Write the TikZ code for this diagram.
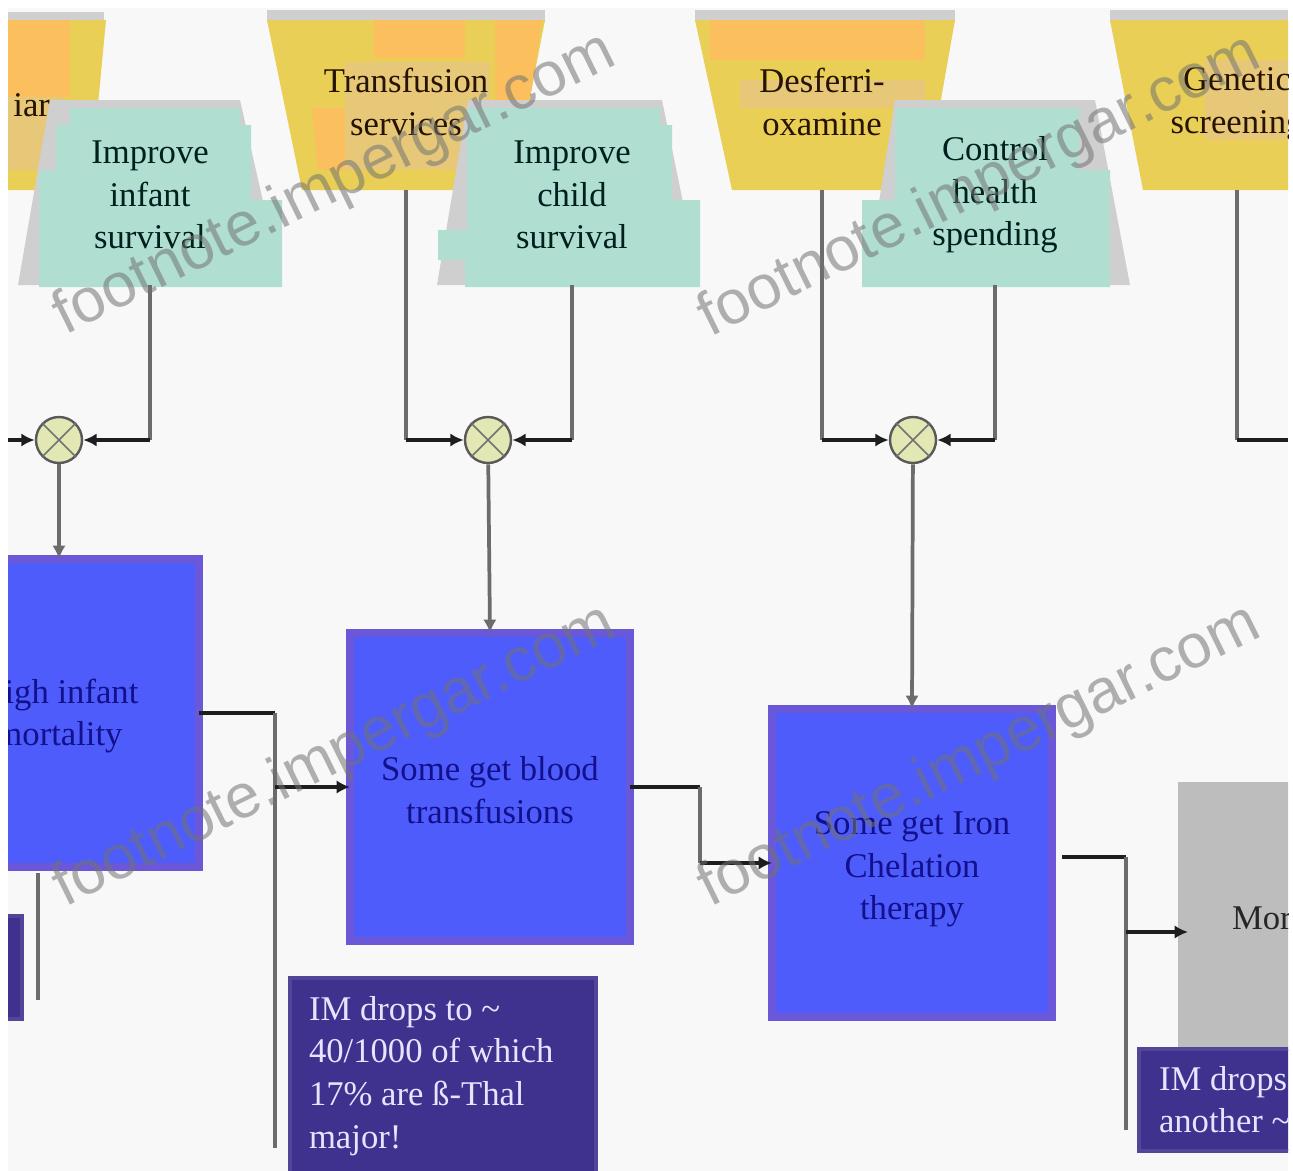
\documentclass[tikz,border=0pt]{standalone}
\usepackage{fontspec}
\setmainfont{Liberation Serif}
\newfontfamily\wmfont{Liberation Sans}
\usetikzlibrary{arrows.meta,calc}
\definecolor{bgc}{HTML}{F8F8F8}
\definecolor{orA}{HTML}{E9CF55}
\definecolor{orB}{HTML}{FCBF5E}
\definecolor{orC}{HTML}{E6C878}
\definecolor{tealc}{HTML}{B0DFD1}
\definecolor{shad}{HTML}{CFCFCF}
\definecolor{blueF}{HTML}{4D5CFB}
\definecolor{blueB}{HTML}{6A58D8}
\definecolor{blueT}{HTML}{12108C}
\definecolor{darkF}{HTML}{3F318E}
\definecolor{greyF}{HTML}{BDBDBD}
\definecolor{xorF}{HTML}{E3E7B4}
\definecolor{lineV}{HTML}{6C6C6C}
\definecolor{lineH}{HTML}{1E1E1E}
\newcommand{\pushdown}[1]{\rule{0pt}{#1}}
\tikzset{
  base/.style={font=\fontsize{26}{32}\selectfont, align=center, inner sep=0pt, outer sep=0pt},
  ordertext/.style={base, text=black!85!orange, minimum width=130*0.75pt, minimum height=176*0.75pt},
  tealtext/.style={base, text=black!75!teal, minimum width=190*0.75pt, minimum height=180*0.75pt},
  bluebox/.style={base, text=blueT, fill=blueF, draw=blueB, line width=6pt, minimum width=280*0.75pt, minimum height=308*0.75pt},
  darkbox/.style={fill=darkF, draw=darkF!90!white, line width=3pt, inner sep=0pt, outer sep=0pt},
  darktext/.style={base, text=white!90!blue, align=left, anchor=north west},
  greybox/.style={fill=greyF, inner sep=0pt, outer sep=0pt},
  xorn/.style={circle, fill=xorF, draw=black!65, line width=1.8pt, minimum size=46*0.75pt, inner sep=0pt, outer sep=1pt},
  vline/.style={draw=lineV, line width=2.8pt},
  hline/.style={draw=lineH, line width=2.8pt},
  tip/.style={-{Latex[length=10pt,width=10pt]}},
  wm/.style={font=\wmfont\fontsize{46.5}{46.5}\selectfont, text=black!55, opacity=.55, rotate=26.2, inner sep=0pt}
}
\begin{document}
\begin{tikzpicture}[x=0.75pt,y=-0.75pt]
\useasboundingbox (0,0) rectangle (1293,1171);
\fill[white] (0,0) rectangle (1293,1171);
\clip (8,8) rectangle (1288,1171);
\fill[bgc] (8,8) rectangle (1288,1171);

% yellow trapezoids
\fill[shad] (8,12) -- (104,12) -- (104,22) -- (8,22) -- cycle;
\fill[orA] (8,20) -- (106,20) -- (90,190) -- (8,190) -- cycle;
\fill[orB] (8,20) -- (70,20) -- (70,97) -- (8,97) -- cycle;
\fill[orC] (8,97) -- (65,97) -- (50,170) -- (8,170) -- cycle;

\fill[shad] (267,10) -- (545,10) -- (545,22) -- (267,22) -- cycle;
\fill[orA] (267,20) -- (545,20) -- (512,190) -- (302,190) -- cycle;
\fill[orB] (374,20) -- (465,20) -- (465,58) -- (374,58) -- cycle;
\fill[orB] (495,20) -- (542,20) -- (530,100) -- (495,100) -- cycle;
\fill[orB] (312,108) -- (345,108) -- (345,170) -- (318,170) -- cycle;
\fill[orC] (345,62) -- (490,62) -- (490,170) -- (345,170) -- cycle;

\fill[shad] (695,10) -- (955,10) -- (955,22) -- (695,22) -- cycle;
\fill[orA] (695,20) -- (955,20) -- (925,190) -- (732,190) -- cycle;
\fill[orB] (710,20) -- (925,20) -- (925,60) -- (710,60) -- cycle;
\fill[orC] (740,80) -- (925,80) -- (925,108) -- (740,108) -- cycle;

\fill[shad] (1110,10) -- (1288,10) -- (1288,22) -- (1110,22) -- cycle;
\fill[orA] (1110,20) -- (1288,20) -- (1288,190) -- (1143,190) -- cycle;
\fill[orC] (1205,60) -- (1288,60) -- (1288,140) -- (1205,140) -- cycle;

\node[base, anchor=east, text=black!85!orange] (o1) at (50,105) {iar};
\node[ordertext] (o2) at (406,102) {Transfusion\\services};
\node[ordertext] (o3) at (822,102) {Desferri-\\oxamine};
\node[ordertext] (o4) at (1237,102) {\pushdown{21pt}Genetic\\screening};

% teal trapezoids
\fill[shad] (50,100) -- (240,100) -- (282,285) -- (18,285) -- cycle;
\fill[tealc] (70,108) -- (240,108) -- (240,125) -- (251,125) -- (251,200) -- (282,200) -- (282,287) -- (39,287) -- (39,170) -- (56,170) -- (56,125) -- (70,125) -- cycle;
\fill[shad] (468,100) -- (662,100) -- (700,285) -- (437,285) -- cycle;
\fill[tealc] (467,108) -- (660,108) -- (660,125) -- (672,125) -- (672,200) -- (700,200) -- (700,287) -- (465,287) -- (465,260) -- (438,260) -- (438,230) -- (467,230) -- cycle;
\fill[shad] (895,100) -- (1095,100) -- (1130,285) -- (866,285) -- cycle;
\fill[tealc] (895,108) -- (1079,108) -- (1079,170) -- (1110,170) -- (1110,287) -- (862,287) -- (862,200) -- (895,200) -- cycle;

\node[tealtext] (t1) at (150,195) {Improve\\infant\\survival};
\node[tealtext] (t2) at (572,195) {Improve\\child\\survival};
\node[tealtext] (t3) at (995,195) {Control\\health\\spending};

% multipliers
\node[xorn] (x1) at (59,440) {};
\node[xorn] (x2) at (488,440) {};
\node[xorn] (x3) at (913,440) {};
\foreach \n in {x1,x2,x3}{
  \draw[black!55, line width=1.2pt] (\n.north west) -- (\n.south east) (\n.north east) -- (\n.south west);
}

% process boxes
\node[bluebox] (b1) at (59,713) {\pushdown{23pt}High infant\\mortality};
\node[bluebox] (b2) at (490,787) {\pushdown{23pt}Some get blood\\transfusions};
\node[bluebox] (b3) at (912,863) {\pushdown{27pt}Some get Iron\\Chelation\\therapy};
\node[greybox, minimum width=282*0.75pt, minimum height=266*0.75pt] (g1) at (1319,915) {};
\node[base, anchor=west, text=black!85] (g1t) at (1232,921) {Mortality};

\node[darkbox, minimum width=306*0.75pt, minimum height=240*0.75pt] (d1) at (443,1098) {};
\node[darktext] (d1t) at (309,996) {IM drops to \textasciitilde\\40/1000 of which\\17\% are ß-Thal\\major!};
\node[darkbox, minimum width=280*0.75pt, minimum height=102*0.75pt] (d2) at (1279,1100) {};
\node[darktext] (d2t) at (1159,1066) {IM drops by\\another \textasciitilde};
\node[darkbox, minimum width=100*0.75pt, minimum height=103*0.75pt] (d0) at (-28,967) {};

% connector way-points
\coordinate (L0) at (8,440);
\coordinate (c1) at (t1.south |- x1);
\coordinate (c2a) at (o2.south |- x2);
\coordinate (c2b) at (t2.south |- x2);
\coordinate (c3a) at (o3.south |- x3);
\coordinate (c3b) at (t3.south |- x3);
\coordinate (c4) at (o4.south |- x3);
\coordinate (R4) at (1288,440);
\coordinate (k1) at (275,713);
\coordinate (j1) at (275,787);
\coordinate (e1) at (275,1148);
\coordinate (k2) at (700,787);
\coordinate (j2) at (700,863);
\coordinate (s3) at (1062,857);
\coordinate (k3) at (1126,857);
\coordinate (j3) at (1126,932);
\coordinate (e3) at (1126,1130);
\coordinate (g3) at (1188,932);
\coordinate (s0) at (38,873);
\coordinate (e0) at (38,1000);

\draw[vline] (t1.south) -- (c1);
\draw[vline] (o2.south) -- (c2a);
\draw[vline] (t2.south) -- (c2b);
\draw[vline] (o3.south) -- (c3a);
\draw[vline] (t3.south) -- (c3b);
\draw[vline] (o4.south) -- (c4);
\draw[hline, tip] (L0) -- (x1);
\draw[hline, tip] (c1) -- (x1);
\draw[hline, tip] (c2a) -- (x2);
\draw[hline, tip] (c2b) -- (x2);
\draw[hline, tip] (c3a) -- (x3);
\draw[hline, tip] (c3b) -- (x3);
\draw[hline] (c4) -- (R4);
\draw[vline, tip] (x1) -- (b1.north);
\draw[vline, tip] (x2) -- (b2.north);
\draw[vline, tip] (x3) -- (b3.north);
\draw[hline] (b1.east |- k1) -- (k1);
\draw[vline] (k1) -- (e1);
\draw[hline, tip] (j1) -- (b2.west);
\draw[hline] (b2.east) -- (k2);
\draw[vline] (k2) -- (j2);
\draw[hline, tip] (j2) -- (b3.west);
\draw[hline] (s3) -- (k3);
\draw[vline] (k3) -- (e3);
\draw[hline, tip] (j3) -- (g3);
\draw[vline] (s0) -- (e0);

% watermarks
\node[wm] (w1) at (335,185) {footnote.impergar.com};
\node[wm] (w2) at (335,757) {footnote.impergar.com};
\node[wm] (w3) at (980,187) {footnote.impergar.com};
\node[wm] (w4) at (980,757) {footnote.impergar.com};
\end{tikzpicture}
\end{document}
